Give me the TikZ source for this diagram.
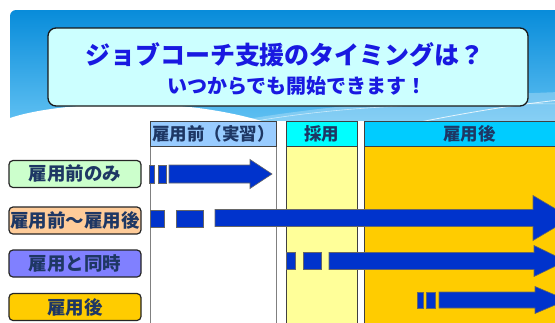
\documentclass[tikz,border=0pt]{standalone}
\usepackage{fontspec}
\newfontfamily\jp{Noto Sans CJK JP}
\definecolor{hdrtop}{RGB}{8,140,218}
\definecolor{hdrbot}{RGB}{95,192,242}
\definecolor{titlefill}{RGB}{204,255,255}
\definecolor{titletext}{RGB}{25,25,225}
\definecolor{navy}{RGB}{30,55,100}
\definecolor{arrblue}{RGB}{0,51,204}
\definecolor{hdrA}{RGB}{153,204,255}
\definecolor{hdrB}{RGB}{0,255,255}
\definecolor{hdrC}{RGB}{0,204,255}
\definecolor{colB}{RGB}{255,255,153}
\definecolor{colC}{RGB}{255,204,0}
\definecolor{labA}{RGB}{204,255,204}
\definecolor{labB}{RGB}{255,204,153}
\definecolor{labC}{RGB}{128,128,255}
\definecolor{labD}{RGB}{255,204,0}
\tikzset{
  lab/.style={draw=black!85, line width=1.2pt, rounded corners=4pt, minimum width=132pt, minimum height=27pt, inner sep=0pt, font=\jp\bfseries\fontsize{18.5}{18.5}\selectfont, text=navy},
  hdr/.style={draw=black!75, line width=0.8pt, inner sep=0pt, font=\jp\bfseries\fontsize{17.5}{17.5}\selectfont, text=navy},
  colbox/.style={draw=black!75, line width=0.8pt},
  arr/.style={fill=arrblue, draw=black!60, line width=0.6pt}
}
\newcommand\blkarrow[7]{% start, base, tip, yc, body hh, head hh
  \draw[arr] ({#1},{#4-#5}) -- ({#2},{#4-#5}) -- ({#2},{#4-#6}) -- ({#3},{#4}) -- ({#2},{#4+#6}) -- ({#2},{#4+#5}) -- ({#1},{#4+#5}) -- cycle;}
\newcommand\dashbar[4]{% x1, x2, yc, hh
  \draw[arr] ({#1},{#3-#4}) rectangle ({#2},{#3+#4});}
\begin{document}
\begin{tikzpicture}[x=1pt,y=-1pt]
\useasboundingbox (0,0) rectangle (555,322);
\fill[white] (0,0) rectangle (555,322);
% header band
\shade[top color=hdrtop, bottom color=hdrbot] (10,122) -- (10,16) arc[start angle=180,end angle=270,radius=6] -- (560,10) -- (560,122) -- cycle;
% lighter swoosh
\fill[white, opacity=0.25] (230,122) .. controls (330,104) and (450,96) .. (560,92) -- (560,122) -- cycle;
\draw[white, line width=0.8pt, opacity=0.8] (420,122) .. controls (470,112) and (520,104) .. (560,100);
\draw[white, line width=0.6pt, opacity=0.6] (250,122) .. controls (330,108) and (420,102) .. (560,104);
% white bulge
\fill[white] (10,118) .. controls (40,108) and (90,103) .. (150,104) .. controls (200,106) and (240,114) .. (268,123) -- (10,123) -- cycle;
\fill[white] (0,121) rectangle (560,323);
% title box
\node[draw=black!90, line width=1.3pt, rounded corners=8pt, fill=titlefill, minimum width=480pt, minimum height=78pt] (title) at (288,67) {};
\node[font=\jp\bfseries\fontsize{25}{25}\selectfont, text=titletext, inner sep=0pt] (t1) at (285,55) {ジョブコーチ支援のタイミングは？};
\node[font=\jp\bfseries\fontsize{20}{20}\selectfont, text=titletext, inner sep=0pt] (t2) at (297,86) {いつからでも開始できます！};
% columns
\draw[draw=black!50, line width=0.8pt] (150,146) -- (150,330) (276,146) -- (276,330);
\filldraw[colbox, fill=colB] (286,146) rectangle (357,330);
\filldraw[colbox, fill=colC] (364,146) rectangle (570,330);
% column headers
\node[hdr, fill=hdrA, minimum width=126pt, minimum height=25pt, anchor=north west] (h1) at (150,121) {雇用前（実習）};
\node[hdr, fill=hdrB, minimum width=71pt, minimum height=25pt, anchor=north west] (h2) at (286,121) {採用};
\node[hdr, fill=hdrC, minimum width=210pt, minimum height=25pt, anchor=north west, text width=191pt, align=center] (h3) at (364,121) {雇用後};
% row labels
\node[lab, fill=labA] (r1) at (75,174) {雇用前のみ};
\node[lab, fill=labB] (r2) at (75,220.5) {雇用前～雇用後};
\node[lab, fill=labC] (r3) at (75,263.5) {雇用と同時};
\node[lab, fill=labD] (r4) at (75,307) {雇用後};
% arrows
\dashbar{149}{154}{174}{9}
\dashbar{158}{166}{174}{9}
\blkarrow{169}{250}{272}{174}{9}{14.5}{}
\dashbar{150}{164}{218.5}{8.5}
\dashbar{176}{203}{218.5}{8.5}
\blkarrow{215}{533}{571}{218}{8.5}{22.5}{}
\dashbar{286}{295}{261}{8.5}
\dashbar{303}{321}{261}{8.5}
\blkarrow{329}{534}{566}{261}{8.5}{15.5}{}
\dashbar{417}{423}{300}{8}
\dashbar{426}{435}{300}{8}
\blkarrow{439}{535}{567}{300}{8}{13.5}{}
\end{tikzpicture}
\end{document}
